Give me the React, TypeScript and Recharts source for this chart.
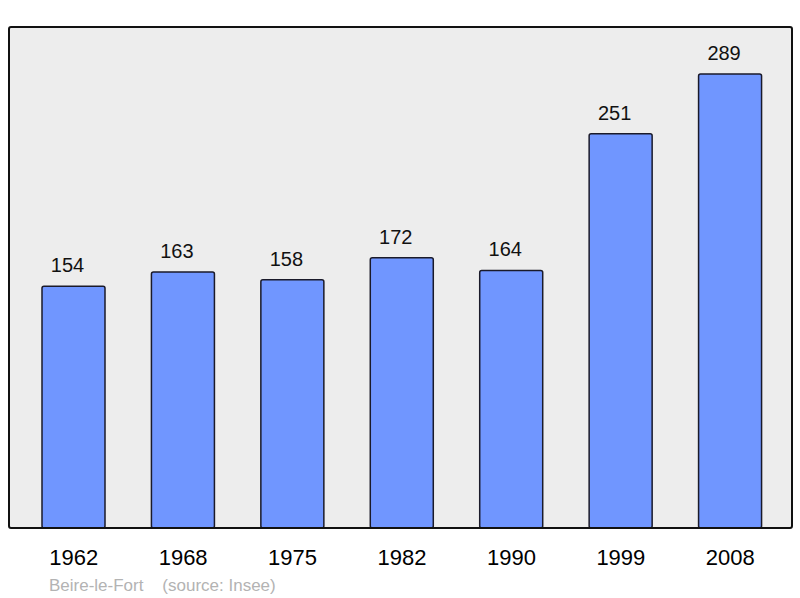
import React from 'react';
import { BarChart, Bar, XAxis, YAxis, LabelList, CartesianGrid } from 'recharts';

const years = ['1962', '1968', '1975', '1982', '1990', '1999', '2008'];
const population = [154, 163, 158, 172, 164, 251, 289];

const data = years.map((y, i) => ({ year: y, pop: population[i] }));

const FONT = '"Liberation Sans", Arial, sans-serif';

export default function App() {
  return (
    <div style={{ position: 'absolute', left: 0, top: 0, width: 800, height: 598, background: '#fff' }}>
      <BarChart
        width={800}
        height={598}
        data={data}
        margin={{ top: 27, right: 8, left: 9, bottom: 40 }}
        barCategoryGap={0}
      >
        <CartesianGrid fill="#ededed" fillOpacity={1} horizontal={false} vertical={false} stroke="none" />
        <XAxis
          dataKey="year"
          height={30}
          axisLine={false}
          tickLine={false}
          tickMargin={15}
          padding={{ left: 10, right: 7 }}
          tick={{ fontSize: 22, fill: '#000', fontFamily: FONT }}
          interval={0}
        />
        <YAxis hide domain={[0, 319]} type="number" allowDataOverflow />
        <Bar
          dataKey="pop"
          fill="#7096ff"
          stroke="#1a1a2a"
          strokeWidth={1.5}
          barSize={63}
          radius={2}
          isAnimationActive={false}
        >
          <LabelList
            dataKey="pop"
            position="top"
            offset={14}
            dx={-6}
            style={{ fontSize: 20, fill: '#111', fontFamily: FONT }}
          />
        </Bar>
      </BarChart>
      <div
        style={{
          position: 'absolute',
          left: 8,
          top: 26,
          width: 785,
          height: 503,
          boxSizing: 'border-box',
          border: '2px solid #111',
          borderRadius: 3,
          pointerEvents: 'none',
        }}
      />
      <div
        style={{
          position: 'absolute',
          left: 49,
          top: 577,
          fontFamily: FONT,
          fontSize: 17,
          lineHeight: 1,
          color: '#b3b3b3',
          whiteSpace: 'pre',
        }}
      >
        {'Beire-le-Fort    (source: Insee)'}
      </div>
    </div>
  );
}
